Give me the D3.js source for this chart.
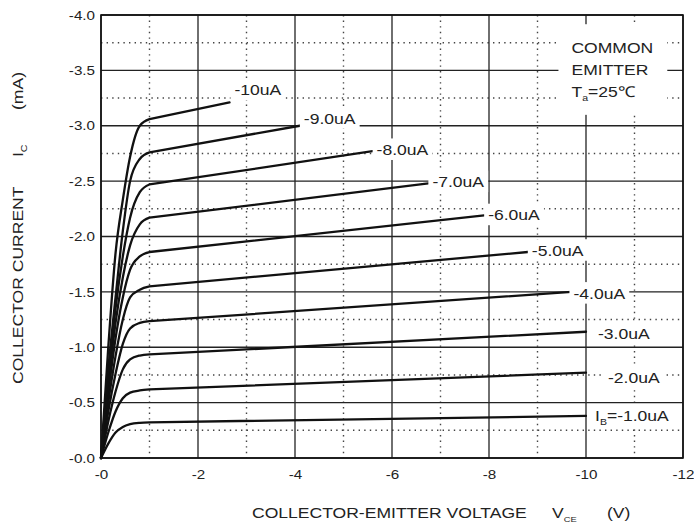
<!DOCTYPE html>
<html>
<head>
<meta charset="utf-8">
<script src="https://cdn.jsdelivr.net/npm/d3@7"></script>
<style>
	body { margin: 0; background: #fff; }
	text { font-family: "Liberation Sans", Arial, sans-serif; fill: #222; }
</style>
</head>
<body>
<div id="chart"></div>
<script>
//curve data: base current labels and Ic (mA) vs Vce (V)
var labels   = ['-1.0uA', '-2.0uA', '-3.0uA', '-4.0uA', '-5.0uA', '-6.0uA', '-7.0uA', '-8.0uA', '-9.0uA', '-10uA']
var vceKnee  = [0, -0.15, -0.3, -0.45, -0.6, -0.8, -1.0]
var icKnee   = [
	[0, -0.13, -0.23, -0.28, -0.305, -0.318, -0.322],
	[0, -0.23, -0.42, -0.54, -0.59, -0.61, -0.62],
	[0, -0.33, -0.6, -0.8, -0.89, -0.925, -0.935],
	[0, -0.42, -0.76, -1.03, -1.17, -1.22, -1.235],
	[0, -0.5, -0.92, -1.25, -1.45, -1.52, -1.55],
	[0, -0.58, -1.08, -1.45, -1.7, -1.82, -1.86],
	[0, -0.65, -1.22, -1.63, -1.92, -2.11, -2.17],
	[0, -0.72, -1.35, -1.82, -2.17, -2.4, -2.47],
	[0, -0.8, -1.45, -2.05, -2.5, -2.7, -2.76],
	[0, -1.0, -1.85, -2.33, -2.72, -3.0, -3.06]
]
var vceEnd   = [-10, -10, -10, -9.7, -8.8, -7.9, -6.75, -5.6, -4.1, -2.65]
var icEnd    = [-0.38, -0.77, -1.14, -1.5, -1.86, -2.19, -2.48, -2.77, -3.0, -3.21]

//ticks
var xMajor = [0, -2, -4, -6, -8, -10, -12]
var xMinor = [-1, -3, -5, -7, -9, -11]
var yMajor = [0, -0.5, -1.0, -1.5, -2.0, -2.5, -3.0, -3.5, -4.0]
var yMinor = [-0.25, -0.75, -1.25, -1.75, -2.25, -2.75, -3.25, -3.75]

//label offsets from curve end (px)
var labelOffset = [[9, 5], [22, 10], [12, 7], [2, 7], [4, 4], [4, 5], [4, 4], [4, 4], [4, -2], [5, -7]]

var margin = {top: 15, right: 11, bottom: 68, left: 101},
	width  = 694 - margin.left - margin.right,
	height = 526 - margin.top  - margin.bottom;
var stretch = 'scale(1.17,1)'

var root = d3.select('#chart')
			.append('svg')
			.attr('width', 694)
			.attr('height', 526)
var svg = root.append('g')
			.attr('transform', 'translate(' + margin.left + ',' + margin.top + ')')

var x = d3.scaleLinear().domain([0, -12]).range([0, width])
var y = d3.scaleLinear().domain([0, -4]).range([height, 0])

//grid
svg.selectAll('.vminor').data(xMinor).enter().append('line')
	.attr('x1', x).attr('x2', x).attr('y1', 0).attr('y2', height)
	.style('stroke', '#444').style('stroke-width', 1.4).style('stroke-dasharray', '1.4,4.2')
svg.selectAll('.hminor').data(yMinor).enter().append('line')
	.attr('y1', y).attr('y2', y).attr('x1', 0).attr('x2', width)
	.style('stroke', '#444').style('stroke-width', 1.4).style('stroke-dasharray', '1.4,4.2')
svg.selectAll('.vmajor').data(xMajor).enter().append('line')
	.attr('x1', x).attr('x2', x).attr('y1', 0).attr('y2', height)
	.style('stroke', '#222').style('stroke-width', 1.3)
svg.selectAll('.hmajor').data(yMajor).enter().append('line')
	.attr('y1', y).attr('y2', y).attr('x1', 0).attr('x2', width)
	.style('stroke', '#222').style('stroke-width', 1.3)

//axes
var yAxis = svg.append('g')
	.call(d3.axisLeft(y).tickValues(yMajor).tickSize(0).tickPadding(6)
		.tickFormat(function(d){ return '-' + d3.format('.1f')(Math.abs(d)) }))
yAxis.select('.domain').remove()
yAxis.selectAll('text')
	.attr('x', -6 / 1.17).attr('transform', stretch)
	.style('font-size', '13px').style('fill', '#222')

var xAxis = svg.append('g')
	.attr('transform', 'translate(0,' + height + ')')
	.call(d3.axisBottom(x).tickValues(xMajor).tickSize(0).tickPadding(12)
		.tickFormat(function(d){ return '-' + Math.abs(d) }))
xAxis.select('.domain').remove()
xAxis.selectAll('text')
	.attr('transform', stretch)
	.style('font-size', '13px').style('fill', '#222')

//info box
var info = svg.append('g').attr('transform', 'translate(' + (x(-9.7)) + ',0)')
var infoText = info.append('g').attr('transform', stretch)
infoText.append('text').attr('y', 38).style('font-size', '15px').text('COMMON')
infoText.append('text').attr('y', 60).style('font-size', '15px').text('EMITTER')
var ta = infoText.append('text').attr('y', 82).style('font-size', '15px')
ta.append('tspan').text('T')
ta.append('tspan').attr('dy', 4).style('font-size', '9px').text('a')
ta.append('tspan').attr('dy', -4).text('=25℃')
var ib = info.node().getBBox()
info.insert('rect', ':first-child')
	.attr('x', ib.x - 13).attr('y', ib.y - 15)
	.attr('width', ib.width + 27).attr('height', ib.height + 27)
	.style('fill', '#fff')

//curves: rounded knee region, then straight active region
var kneeLine = d3.line()
	.x(function(d){ return x(d[0]) })
	.y(function(d){ return y(d[1]) })
	.curve(d3.curveMonotoneX)
var flatLine = d3.line()
	.x(function(d){ return x(d[0]) })
	.y(function(d){ return y(d[1]) })

labels.forEach(function(l, i){
	var knee = vceKnee.map(function(v, j){ return [v, icKnee[i][j]] })
	var last = knee[knee.length - 1]
	var path = kneeLine(knee) + flatLine([last, [vceEnd[i], icEnd[i]]]).replace(/^M[^L]*/, '')
	svg.append('path')
		.attr('d', path)
		.style('fill', 'none')
		.style('stroke', '#111')
		.style('stroke-width', 2.3)
		.style('stroke-linejoin', 'round')
		.style('stroke-linecap', 'round')
})

//curve labels
labels.forEach(function(l, i){
	var g = svg.append('g')
		.attr('transform', 'translate(' + (x(vceEnd[i]) + labelOffset[i][0]) + ',' + (y(icEnd[i]) + labelOffset[i][1]) + ')')
	var t = g.append('text').attr('transform', stretch).style('font-size', '15px')
	if (i == 0) {
		t.append('tspan').text('I')
		t.append('tspan').attr('dy', 4).style('font-size', '9px').text('B')
		t.append('tspan').attr('dy', -4).text('=' + l)
	} else {
		t.text(l)
	}
	var b = g.node().getBBox()
	g.insert('rect', ':first-child')
		.attr('x', b.x - 4).attr('y', b.y - 3)
		.attr('width', b.width + 8).attr('height', b.height + 5)
		.style('fill', '#fff')
})

//frame
svg.append('rect')
	.attr('width', width).attr('height', height)
	.style('fill', 'none').style('stroke', '#111').style('stroke-width', 1.6)

//axis titles
var xt = root.append('g').attr('transform', 'translate(252,518)')
xt.append('text').attr('transform', stretch).style('font-size', '15px').text('COLLECTOR-EMITTER VOLTAGE')
var vce = root.append('g').attr('transform', 'translate(552,518)').append('text').attr('transform', stretch).style('font-size', '15px')
vce.append('tspan').text('V')
vce.append('tspan').attr('dy', 4).style('font-size', '8px').text('CE')
root.append('g').attr('transform', 'translate(607,518)').append('text').attr('transform', stretch).style('font-size', '15px').text('(V)')

var yt = root.append('g').attr('transform', 'translate(23,384) rotate(-90)')
yt.append('text').attr('transform', stretch).style('font-size', '15px').text('COLLECTOR CURRENT')
var ic = yt.append('text').attr('x', 227 / 1.17).attr('transform', stretch).style('font-size', '15px')
ic.append('tspan').text('I')
ic.append('tspan').attr('dy', 4).style('font-size', '9px').text('C')
yt.append('text').attr('x', 274 / 1.17).attr('transform', stretch).style('font-size', '15px').text('(mA)')
</script>
</body>
</html>
